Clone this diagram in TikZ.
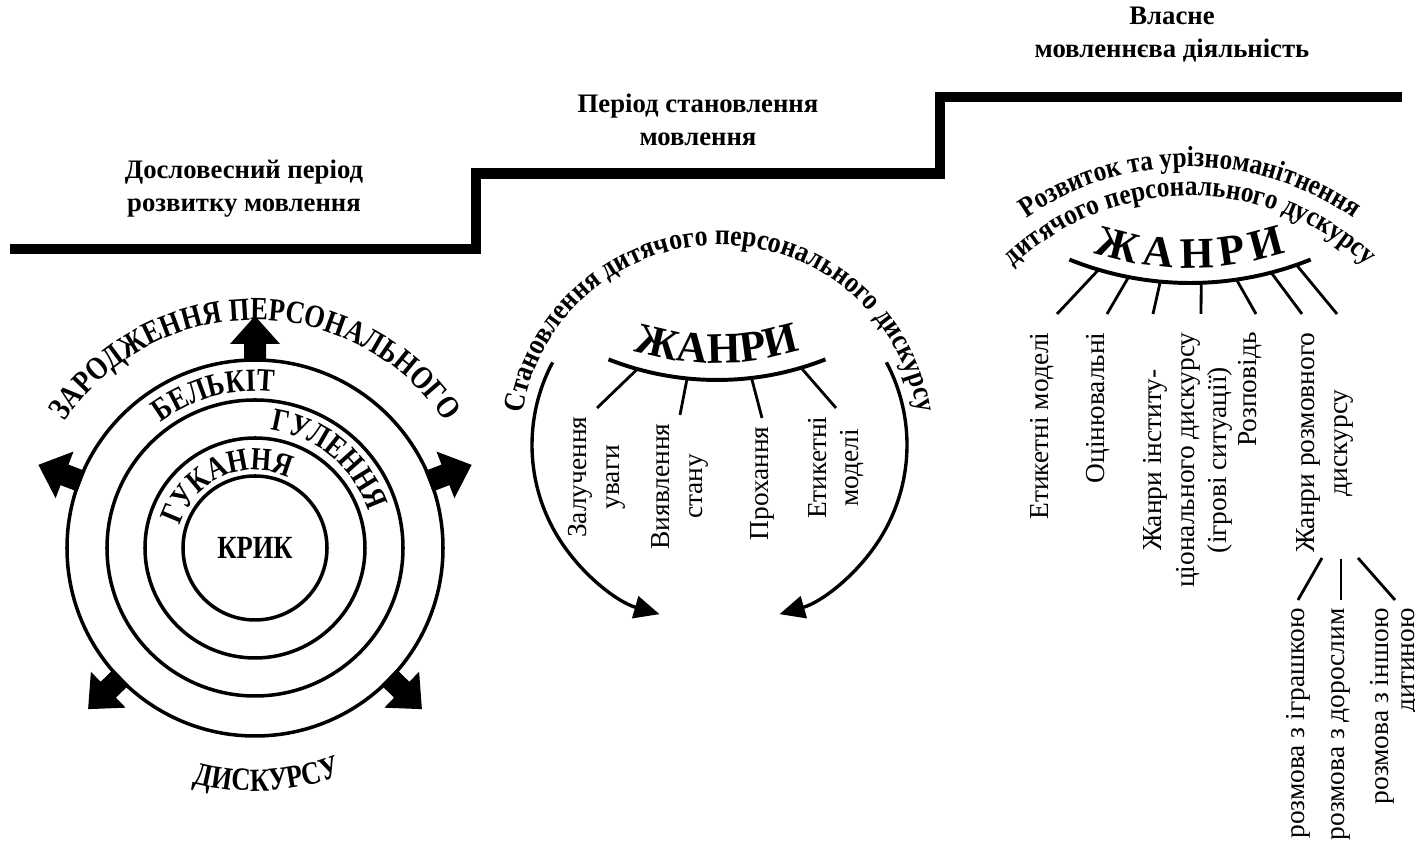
\documentclass[tikz,border=0pt]{standalone}
\usepackage{fontspec}
\setmainfont{Liberation Serif}
\newfontfamily\narrowserif[FakeStretch=0.82]{Liberation Serif}
\newfontfamily\halfnarrow[FakeStretch=0.88]{Liberation Serif}
\usetikzlibrary{arrows.meta,decorations.text,positioning}

\newcommand{\periodfont}{\fontsize{19}{23.5}\selectfont\bfseries}
\newcommand{\ringfont}{\narrowserif\fontsize{23}{27}\selectfont\bfseries}
\newcommand{\bowfont}{\halfnarrow\fontsize{21}{25}\selectfont\bfseries}
\newcommand{\bowsmall}{\halfnarrow\fontsize{20.5}{24}\selectfont\bfseries}
\newcommand{\genrefont}{\fontsize{19.5}{23}\selectfont}
\newcommand{\zhanryfont}{\fontsize{31}{36}\selectfont\bfseries}

\tikzset{
  stair/.style={line width=7.5pt},
  ring/.style={line width=2.5pt},
  bow/.style={line width=2.8pt},
  fan/.style={line width=2pt},
  turn/.style={line width=2.4pt, -{Triangle[length=18pt,width=16pt]}},
  period/.style={font=\periodfont, align=center},
  genre/.style={font=\genrefont, rotate=90, align=center, anchor=east, inner sep=2pt, outer sep=4pt},
}

\begin{document}
\begin{tikzpicture}[x=0.025cm, y=0.025cm]
\useasboundingbox (0,0) rectangle (1415,845);

% --- Steps of the periods ---
\draw[stair] (10,596) -- (476,596) -- (476,671.5) -- (940,671.5) -- (940,748) -- (1402,748);
\node[period] (pre) at (244,656) {Дословесний період\\розвитку мовлення};
\node[period] (form) at (698,725) {Період становлення\\мовлення};
\node[period] (speech) at (1172,810) {Власне\\мовленнєва діяльність};

% --- Rings: cry, cooing, babbling ---
\coordinate (c) at (255,297);
\foreach \r in {72,110,148,188}
  \draw[ring] (c) circle[radius=\r];
\node[font=\ringfont] (cry) at (c) {КРИК};
\foreach \a in {90,159,224,316,21}{
  \begin{scope}[shift={(c)}, rotate=\a-90]
    \fill (-11,186) -- (-11,204) -- (-25,204) -- (0,232) -- (25,204) -- (11,204) -- (11,186) -- cycle;
  \end{scope}
}
\path[decorate, decoration={text along path, text align=center, text={|\ringfont|ГУКАННЯ}}]
  ([shift={(184:78)}]c) arc[start angle=184, end angle=44, radius=78];
\path[decorate, decoration={text along path, text align=center, text={|\ringfont|ГУЛЕННЯ}}]
  ([shift={(110:119)}]c) arc[start angle=110, end angle=-10, radius=119];
\path[decorate, decoration={text along path, text align=center, text={|\ringfont|БЕЛЬКІТ}}]
  ([shift={(165:157)}]c) arc[start angle=165, end angle=45, radius=157];
\path[decorate, decoration={text along path, text align=center, text={|\ringfont|ЗАРОДЖЕННЯ ПЕРСОНАЛЬНОГО}}]
  ([shift={(178:228)}]c) arc[start angle=178, end angle=2, radius=228];
\path[decorate, decoration={text along path, text align=center, text={|\ringfont|ДИСКУРСУ}}]
  ([shift={(213:243)}]c) arc[start angle=213, end angle=333, radius=243];

% --- Middle: forming of the discourse ---
\coordinate (mc) at (720,400);
\coordinate (ml) at (708,400);
\coordinate (mr) at (731,400);
\coordinate (mu) at (717,761);
\path[decorate, decoration={text along path, text align=center, text={|\bowfont|Становлення дитячого персонального дискурсу}}]
  ([shift={(178:200)}]mc) arc[start angle=178, end angle=2, radius=200];
\draw[turn] ([shift={(152:176)}]ml) arc[start angle=152, end angle=254, radius=176];
\draw[turn] ([shift={(28:176)}]mr) arc[start angle=28, end angle=-74, radius=176];
\draw[bow] ([shift={(248.5:296)}]mu) arc[start angle=248.5, end angle=291.5, radius=296];
\path[decorate, decoration={text along path, text align=center, text={|\zhanryfont|ЖАНРИ}}]
  ([shift={(240:279)}]mu) arc[start angle=240, end angle=300, radius=279];
\node[genre] (attn) at (597,437) {Залучення\\уваги};
\node[genre] (state) at (680,430) {Виявлення\\стану};
\node[genre] (ask) at (762,427) {Прохання};
\node[genre] (etiq) at (836,437) {Етикетні\\моделі};
\draw[fan] ([shift={(254.4:296)}]mu) -- (attn.east);
\draw[fan] ([shift={(264.2:296)}]mu) -- (state.east);
\draw[fan] ([shift={(276.7:296)}]mu) -- (ask.east);
\draw[fan] ([shift={(286.5:296)}]mu) -- (etiq.east);

% --- Right: development of the discourse ---
\coordinate (rc) at (1190,391);
\coordinate (ru) at (1190,884);
\path[decorate, decoration={text along path, text align=center, text={|\bowsmall|Розвиток та урізноманітнення}}]
  ([shift={(150:287)}]rc) arc[start angle=150, end angle=30, radius=287];
\path[decorate, decoration={text along path, text align=center, text={|\bowsmall|дитячого персонального дускурсу}}]
  ([shift={(150:258)}]rc) arc[start angle=150, end angle=30, radius=258];
\draw[bow] ([shift={(248:322)}]ru) arc[start angle=248, end angle=292, radius=322];
\path[decorate, decoration={text along path, text align={fit to path}, text={|\zhanryfont|ЖАНРИ}}]
  ([shift={(251.7:307)}]ru) arc[start angle=251.7, end angle=288.3, radius=307];
\foreach \a/\x [count=\i] in {253.5/1057, 259/1107, 264.7/1153, 272/1201, 278.3/1256, 284.6/1302, 289.3/1337}{
  \coordinate (ra\i) at ([shift={(\a:322)}]ru);
  \coordinate (rb\i) at (\x,531);
  \draw[fan] (ra\i) -- (rb\i);
}
\node[genre] (etiq2) at (1042,521) {Етикетні моделі};
\node[genre] (eval) at (1098,521) {Оцінювальні};
\node[genre] (inst) at (1188,521) {Жанри інститу-\\ціонального дискурсу\\(ігрові ситуації)};
\node[genre] (story) at (1250,521) {Розповідь};
\node[genre] (talk) at (1325,521) {Жанри розмовного\\дискурсу};

% sub-genres of talk
\coordinate (sa1) at (1322,287);
\coordinate (sa2) at (1341,286);
\coordinate (sa3) at (1358,287);
\node[genre] (toy) at (1298,245) {розмова з іграшкою};
\node[genre] (adult) at (1341,245) {розмова з дорослим};
\node[genre, align=right] (child) at (1395,245) {розмова з іншою\\[-4pt]дитиною};
\draw[fan] (sa1) -- (toy.east);
\draw[fan] (sa2) -- (adult.east);
\draw[fan] (sa3) -- (child.east);
\end{tikzpicture}
\end{document}
